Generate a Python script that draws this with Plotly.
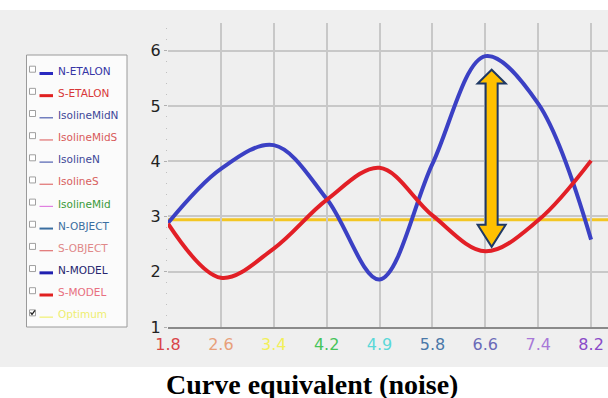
import plotly.graph_objects as go

# ---------------- data ----------------
categories = ["1.8", "2.6", "3.4", "4.2", "4.9", "5.8", "6.6", "7.4", "8.2"]
cat_colors = ["#d9464a", "#e8a07a", "#f2f05a", "#46c45a", "#5ad8d8",
              "#4a78a8", "#6a6ab8", "#a878d8", "#8a4ac8"]
n_model = [2.88, 3.86, 4.29, 3.32, 1.86, 3.95, 5.90, 5.04, 2.58]
s_model = [2.87, 1.89, 2.42, 3.30, 3.88, 3.02, 2.37, 2.93, 4.01]
optimum = 2.94

legend_names = ["N-ETALON", "S-ETALON", "IsolineMidN", "IsolineMidS", "IsolineN",
                "IsolineS", "IsolineMid", "N-OBJECT", "S-OBJECT", "N-MODEL",
                "S-MODEL", "Optimum"]
legend_text_colors = ["#3535a5", "#d83838", "#404898", "#d85a5a", "#404898",
                      "#d86060", "#3a9a3a", "#3a6ea0", "#e08888", "#25256e",
                      "#e87080", "#eeee70"]
legend_line_colors = ["#2a2ac0", "#e02020", "#5060b0", "#e07070", "#5060b0",
                      "#e07070", "#e080e0", "#3a6ea0", "#e07070", "#2020b0",
                      "#e02020", "#f0f070"]
legend_line_widths = [3, 3, 1.2, 1.2, 1.2, 1.2, 1.2, 2, 1.2, 3, 3, 1.2]
legend_checked = [False] * 11 + [True]

title_text = "Curve equivalent (noise)"

# ---------------- layout geometry ----------------
W, H = 608, 398
L, R, T, B = 168, 0, 23, 71
PW, PH = W - L - R, H - T - B
XMAX = 8.32
X_PER_PX = XMAX / PW


def PX(px):
    return (px - L) / PW


def PY(py):
    return (H - B - py) / PH


idx = list(range(len(categories)))

fig = go.Figure()
fig.add_trace(go.Scatter(x=idx, y=n_model, mode="lines", name="N-MODEL",
                         line=dict(color="#3b40c4", width=4, shape="spline", smoothing=1.0),
                         showlegend=False))
fig.add_trace(go.Scatter(x=idx, y=s_model, mode="lines", name="S-MODEL",
                         line=dict(color="#e21f26", width=4, shape="spline", smoothing=1.0),
                         showlegend=False))

shapes = []
annotations = []

# background panel
shapes.append(dict(type="rect", xref="paper", yref="paper", layer="below",
                   x0=PX(0), x1=PX(608), y0=PY(367), y1=PY(10),
                   fillcolor="#efefef", line=dict(width=0)))

# optimum line
shapes.append(dict(type="line", xref="paper", yref="y", layer="below",
                   x0=0, x1=1, y0=optimum, y1=optimum,
                   line=dict(color="#f3c623", width=3)))

# legend box
shapes.append(dict(type="rect", xref="paper", yref="paper", layer="above",
                   x0=PX(26.5), x1=PX(127), y0=PY(327), y1=PY(55),
                   fillcolor="#fbfbfb", line=dict(color="#9a9a9a", width=1)))
for i, name in enumerate(legend_names):
    cy = 70.7 + i * 22.15
    shapes.append(dict(type="rect", xref="paper", yref="paper", layer="above",
                       x0=PX(29.5), x1=PX(35.5), y0=PY(cy + 1.5), y1=PY(cy - 4.5),
                       fillcolor="#ffffff", line=dict(color="#a0a0a0", width=1)))
    if legend_checked[i]:
        shapes.append(dict(type="path", xref="paper", yref="paper", layer="above",
                           path="M %f %f L %f %f L %f %f" % (PX(30.5), PY(cy - 2), PX(32), PY(cy),
                                                            PX(35), PY(cy - 4)),
                           line=dict(color="#202020", width=1.3)))
    ly = cy + 2.8
    shapes.append(dict(type="line", xref="paper", yref="paper", layer="above",
                       x0=PX(39.5), x1=PX(53), y0=PY(ly), y1=PY(ly),
                       line=dict(color=legend_line_colors[i], width=legend_line_widths[i])))
    annotations.append(dict(text=name, xref="paper", yref="paper", x=PX(57.5), y=PY(cy),
                            xanchor="left", yanchor="middle", showarrow=False,
                            borderpad=0,
                            font=dict(family="DejaVu Sans", size=10.5,
                                      color=legend_text_colors[i])))

# double arrow at 6.6
ai = categories.index("6.6")
cx = ai + 0.12
top_tip = n_model[ai] - 0.245
top_base = top_tip - 0.25
bot_tip = s_model[ai] + 0.08
bot_base = bot_tip + 0.40
hw, sw = 14 * X_PER_PX, 6 * X_PER_PX
pts = [(cx - sw, top_base), (cx - hw, top_base), (cx, top_tip), (cx + hw, top_base),
       (cx + sw, top_base), (cx + sw, bot_base), (cx + hw, bot_base), (cx, bot_tip),
       (cx - hw, bot_base), (cx - sw, bot_base)]
arrow_path = "M " + " L ".join("%f,%f" % p for p in pts) + " Z"
shapes.append(dict(type="path", xref="x", yref="y", path=arrow_path,
                   fillcolor="#ffc000", line=dict(color="#1f3864", width=2), layer="above"))

# title
annotations.append(dict(text="<b>%s</b>" % title_text, xref="paper", yref="paper",
                        x=PX(312), y=PY(384), xanchor="center", yanchor="middle",
                        showarrow=False,
                        font=dict(family="Liberation Serif", size=28, color="#000000")))

ticktext = ['<span style="color:%s">%s</span>' % (c, t) for c, t in zip(cat_colors, categories)]

fig.update_layout(
    width=W, height=H,
    margin=dict(l=L, r=R, t=T, b=B, pad=0),
    paper_bgcolor="#ffffff",
    plot_bgcolor="rgba(0,0,0,0)",
    showlegend=False,
    shapes=shapes,
    annotations=annotations,
    xaxis=dict(range=[0, XMAX], tickmode="array", tickvals=idx, ticktext=ticktext,
               showgrid=False, zeroline=False, showline=True, linecolor="#8a8a8a",
               linewidth=1.5, ticks="", tickfont=dict(family="DejaVu Sans", size=16),
               ticklabelstandoff=2,
               minor=dict(tickmode="array", tickvals=idx[1:], showgrid=True,
                          gridcolor="#c8c8c8", gridwidth=1.5, ticks="")),
    yaxis=dict(range=[1, 6.5], tickmode="array", tickvals=[1, 2, 3, 4, 5, 6],
               showgrid=True, gridcolor="#c8c8c8", gridwidth=1.5, zeroline=False,
               showline=False, ticks="outside", ticklen=3, tickcolor="#b0b0b0",
               tickfont=dict(family="DejaVu Sans", size=16, color="#222222"),
               minor=dict(dtick=0.2, ticks="outside", ticklen=1.5, tickcolor="#c0c0c0",
                          showgrid=False)),
)

fig.write_html("out.html", config={"displayModeBar": False},
               post_script="document.body.style.margin='0';document.body.style.overflow='hidden';")
